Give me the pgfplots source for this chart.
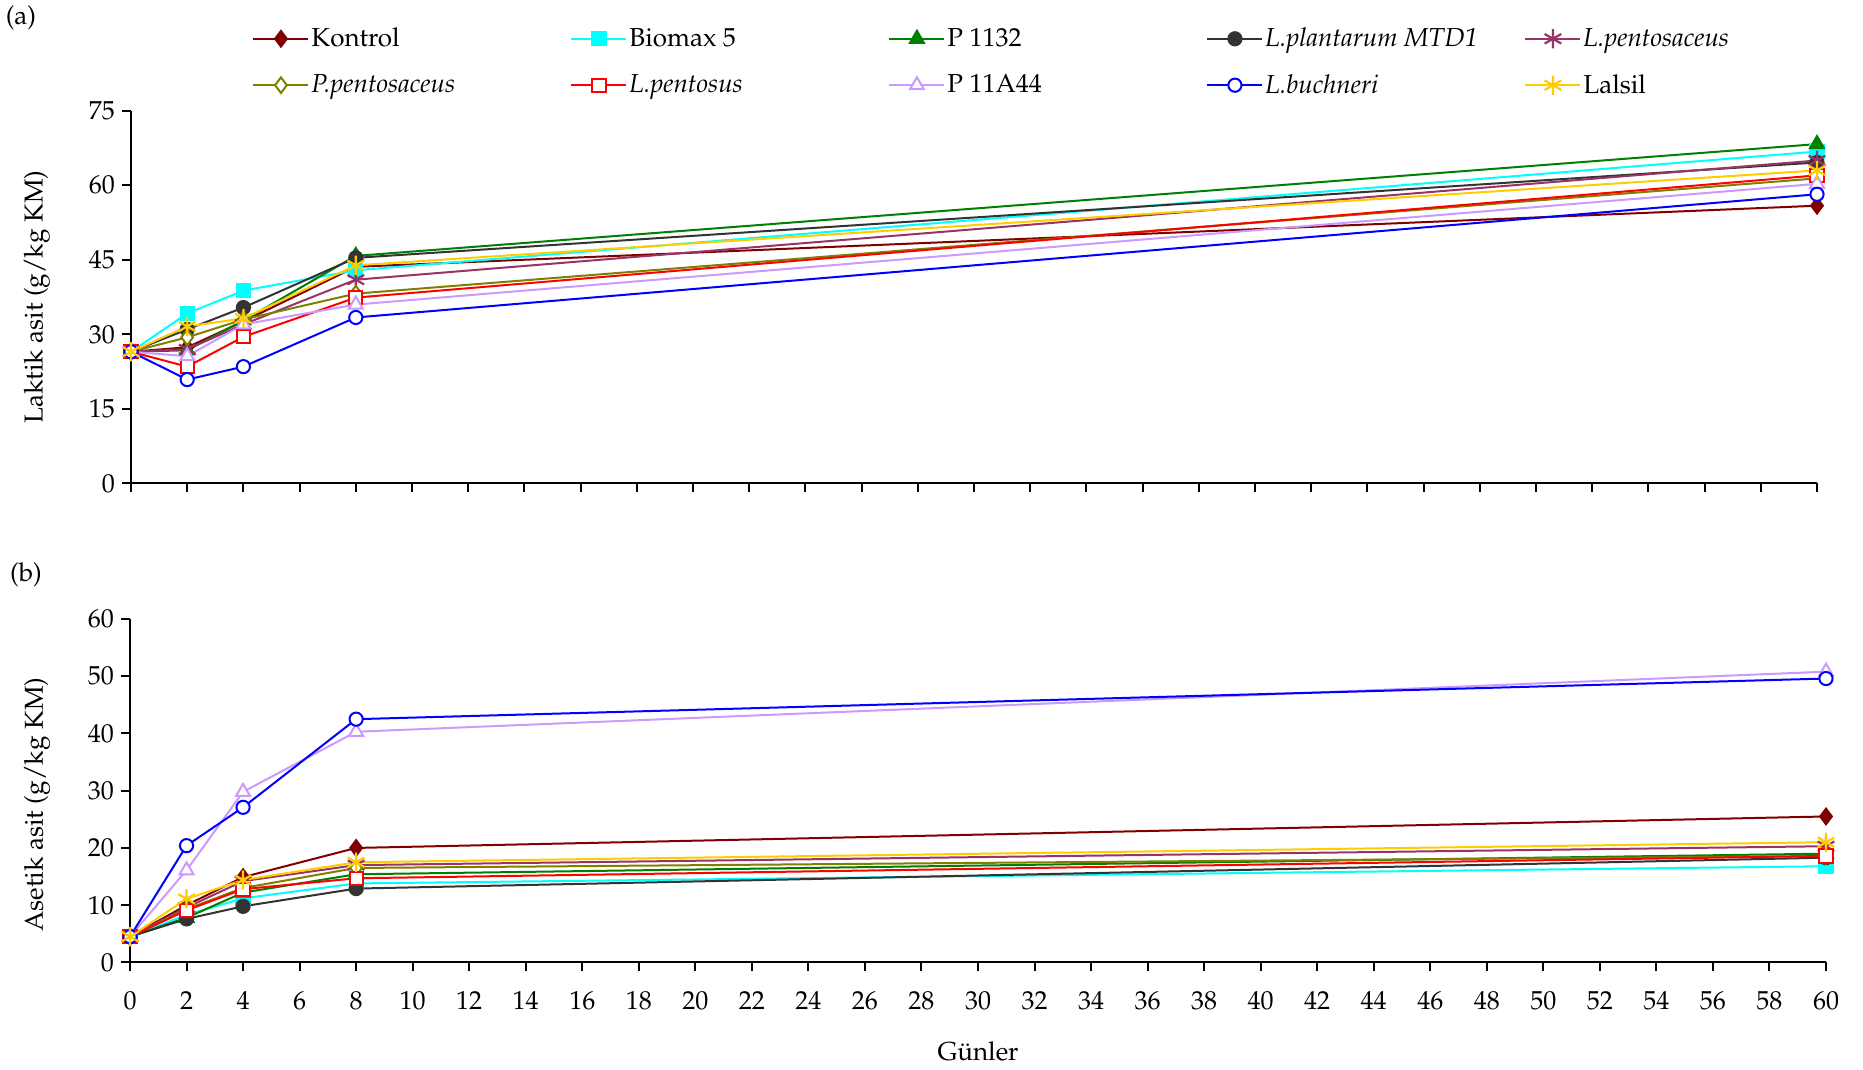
\documentclass[border=0pt]{standalone}
\usepackage[T1]{fontenc}
\usepackage{mathpazo}
\usepackage{pgfplots}
\pgfplotsset{compat=1.18}
\usepackage{pgfplotstable}

\definecolor{ckon}{RGB}{128,0,0}
\definecolor{cbio}{RGB}{0,255,255}
\definecolor{cpa}{RGB}{0,128,0}
\definecolor{clpl}{RGB}{51,51,51}
\definecolor{clpsc}{RGB}{153,51,102}
\definecolor{cppsc}{RGB}{128,128,0}
\definecolor{clpst}{RGB}{255,0,0}
\definecolor{cpb}{RGB}{204,153,255}
\definecolor{clbu}{RGB}{0,0,255}
\definecolor{clal}{RGB}{255,204,0}

\newcommand{\fsz}{\fontsize{13}{15.5}\selectfont}

% Laktik asit (g/kg KM)
\pgfplotstableread{
day kon  bio  pa   lpl  lpsc ppsc lpst pb   lbu  lal
0   26.5 26.5 26.5 26.5 26.5 26.5 26.5 26.5 26.5 26.5
2   27.4 34.2 26.8 31.0 27.0 29.4 23.5 25.6 20.9 31.6
4   32.6 38.8 32.8 35.4 32.0 33.0 29.5 32.0 23.5 33.2
8   43.6 42.9 45.8 45.4 41.0 38.2 37.4 36.0 33.4 43.9
60  55.9 66.8 68.3 64.6 65.0 61.4 62.0 60.3 58.2 63.0
}\laktik

% Asetik asit (g/kg KM)
\pgfplotstableread{
day kon  bio  pa   lpl  lpsc ppsc lpst pb   lbu  lal
0   4.5  4.5  4.5  4.5  4.5  4.5  4.5  4.5  4.5  4.5
2   10.0 8.3  7.8  7.6  9.6  9.3  9.1  16.1 20.4 11.1
4   14.9 11.2 12.2 9.8  14.2 13.0 12.8 29.8 27.1 14.4
8   20.0 13.8 15.4 12.9 17.0 16.5 14.7 40.3 42.5 17.5
60  25.5 16.8 19.0 18.3 20.3 18.6 18.6 50.8 49.6 21.0
}\asetik

\pgfplotsset{
  panel/.style={
    scale only axis,
    axis x line*=bottom, axis y line*=left,
    tick align=outside,
    xmin=0, xmax=60, xtick={0,2,...,60},
    major tick length=4.5pt,
    axis line style={line width=1pt, black},
    every tick/.style={black, line width=1pt},
    tick label style={font=\fsz},
    label style={font=\fsz},
    every axis plot/.append style={line width=1pt},
    legend image code/.code={%
      \draw[mark repeat=2, mark phase=2, #1]
        plot coordinates {(0pt,0pt) (13.75pt,0pt) (27.5pt,0pt)};},
  },
  skon/.style={color=ckon, mark=diamond*, mark size=3.9pt},
  sbio/.style={color=cbio, mark=square*, mark size=3.3pt},
  spa/.style={color=cpa, mark=triangle*, mark size=4pt},
  slpl/.style={color=clpl, mark=*, mark size=3.3pt},
  slpsc/.style={color=clpsc, mark=asterisk, mark size=4.8pt, mark options={line width=1.1pt}},
  sppsc/.style={color=cppsc, mark=diamond*, mark size=3.9pt, mark options={fill=white}},
  slpst/.style={color=clpst, mark=square*, mark size=3.3pt, mark options={fill=white}},
  spb/.style={color=cpb, mark=triangle*, mark size=4pt, mark options={fill=white}},
  slbu/.style={color=clbu, mark=*, mark size=3.3pt, mark options={fill=white}},
  slal/.style={color=clal, mark=asterisk, mark size=4.8pt, mark options={line width=1.1pt}},
}

\newcommand{\legtext}[1]{\makebox[128.5pt][l]{#1}}

\begin{document}
\begin{tikzpicture}[font=\fsz]
\path[use as bounding box] (0,0) rectangle (931.5pt,-535pt);

\node at (10.5pt,-9pt) {(a)};
\node at (13pt,-287.5pt) {(b)};

\begin{axis}[panel,
  at={(65.5pt,-241.7pt)}, anchor=south west,
  width=843pt, height=186.3pt,
  ymin=0, ymax=75, ytick={0,15,...,75},
  xticklabel=\empty,
  ylabel={Laktik asit (g/kg KM)},
  ylabel style={at={(axis description cs:-0.0558,0.5)}, anchor=center},
  legend columns=5,
  legend cell align=left,
  legend style={draw=none, fill=none, at={(axis description cs:0.0718,1.229)},
    anchor=north west, inner sep=0pt, row sep=10.3pt,
    nodes={inner xsep=1pt, inner ysep=1pt}, font=\fsz},
]
\addplot[skon]  table[x=day,y=kon]  {\laktik};
\addplot[sbio]  table[x=day,y=bio]  {\laktik};
\addplot[spa]   table[x=day,y=pa]   {\laktik};
\addplot[slpl]  table[x=day,y=lpl]  {\laktik};
\addplot[slpsc] table[x=day,y=lpsc] {\laktik};
\addplot[sppsc] table[x=day,y=ppsc] {\laktik};
\addplot[slpst] table[x=day,y=lpst] {\laktik};
\addplot[spb]   table[x=day,y=pb]   {\laktik};
\addplot[slbu]  table[x=day,y=lbu]  {\laktik};
\addplot[slal]  table[x=day,y=lal]  {\laktik};
\legend{\legtext{Kontrol}, \legtext{Biomax 5}, \legtext{P 1132}, \legtext{\textit{L.plantarum MTD1}},
  \legtext{\textit{L.pentosaceus}}, \legtext{\textit{P.pentosaceus}}, \legtext{\textit{L.pentosus}},
  \legtext{P 11A44}, \legtext{\textit{L.buchneri}}, \legtext{Lalsil}}
\end{axis}

\begin{axis}[panel,
  at={(65pt,-481.2pt)}, anchor=south west,
  width=848pt, height=171.7pt,
  ymin=0, ymax=60, ytick={0,10,...,60},
  xticklabel style={yshift=-6.5pt},
  xlabel={G\"unler},
  xlabel style={yshift=-9pt},
  ylabel={Asetik asit (g/kg KM)},
  ylabel style={at={(axis description cs:-0.0548,0.46)}, anchor=center},
]
\addplot[skon]  table[x=day,y=kon]  {\asetik};
\addplot[sbio]  table[x=day,y=bio]  {\asetik};
\addplot[spa]   table[x=day,y=pa]   {\asetik};
\addplot[slpl]  table[x=day,y=lpl]  {\asetik};
\addplot[slpsc] table[x=day,y=lpsc] {\asetik};
\addplot[sppsc] table[x=day,y=ppsc] {\asetik};
\addplot[slpst] table[x=day,y=lpst] {\asetik};
\addplot[spb]   table[x=day,y=pb]   {\asetik};
\addplot[slbu]  table[x=day,y=lbu]  {\asetik};
\addplot[slal]  table[x=day,y=lal]  {\asetik};
\end{axis}
\end{tikzpicture}
\end{document}
